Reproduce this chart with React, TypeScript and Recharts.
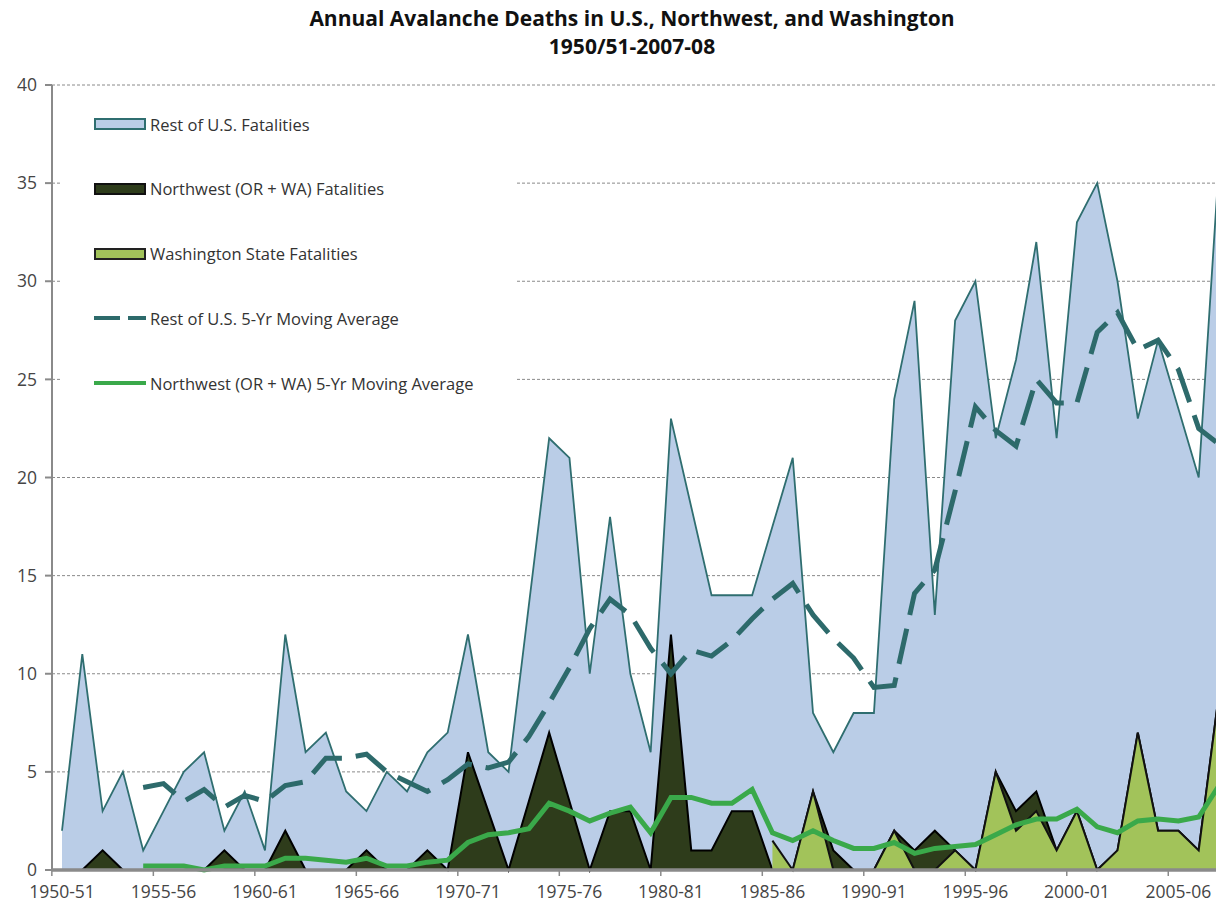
import React from "react";
import {
  ComposedChart,
  Area,
  Line,
  XAxis,
  YAxis,
  CartesianGrid,
  ReferenceLine,
} from "recharts";

// ── Data ───────────────────────────────────────────────────────────────────

const SEASONS = [
  "1950-51", "1951-52", "1952-53", "1953-54", "1954-55", "1955-56", "1956-57", "1957-58", "1958-59", "1959-60",
  "1960-61", "1961-62", "1962-63", "1963-64", "1964-65", "1965-66", "1966-67", "1967-68", "1968-69", "1969-70",
  "1970-71", "1971-72", "1972-73", "1973-74", "1974-75", "1975-76", "1976-77", "1977-78", "1978-79", "1979-80",
  "1980-81", "1981-82", "1982-83", "1983-84", "1984-85", "1985-86", "1986-87", "1987-88", "1988-89", "1989-90",
  "1990-91", "1991-92", "1992-93", "1993-94", "1994-95", "1995-96", "1996-97", "1997-98", "1998-99", "1999-00",
  "2000-01", "2001-02", "2002-03", "2003-04", "2004-05", "2005-06", "2006-07", "2007-08",
];

const REST_US = [
  2, 11, 3, 5, 1, 3, 5, 6, 2, 4,
  1, 12, 6, 7, 4, 3, 5, 4, 6, 7,
  12, 6, 5, 13.5, 22, 21, 10, 18, 10, 6,
  23, 18.5, 14, 14, 14, 17.5, 21, 8, 6, 8,
  8, 24, 29, 13, 28, 30, 22, 26, 32, 22,
  33, 35, 30, 23, 27, 23.5, 20, 36,
];

const NORTHWEST = [
  0, 0, 1, 0, 0, 0, 0, 0, 1, 0,
  0, 2, 0, 0, 0, 1, 0, 0, 1, 0,
  6, 3, 0, 3.5, 7, 3.5, 0, 3, 3, 0,
  12, 1, 1, 3, 3, 0, 0, 4, 1, 0,
  0, 2, 1, 2, 1, 0, 5, 3, 4, 1,
  3, 0, 1, 7, 2, 2, 1, 9,
];

const WASHINGTON = [
  null, null, null, null, null, null, null, null, null, null,
  null, null, null, null, null, null, null, null, null, null,
  null, null, null, null, null, null, null, null, null, null,
  null, null, null, null, null, 1.5, 0, 4, 0, 0,
  0, 2, 0, 0, 1, 0, 5, 2, 3, 1,
  3, 0, 1, 7, 2, 2, 1, 9,
];

const REST_US_MA = [
  null, null, null, null, 4.2, 4.4, 3.5, 4.1, 3.2, 3.8,
  3.5, 4.3, 4.5, 5.7, 5.7, 5.9, 5.0, 4.5, 4.0, 4.6,
  5.4, 5.2, 5.5, 6.8, 8.5, 10.3, 12.3, 13.8, 13.0, 11.3,
  10.0, 11.2, 10.9, 11.7, 12.8, 13.8, 14.6, 13.0, 11.8, 10.8,
  9.3, 9.4, 14.1, 15.3, 19.3, 23.6, 22.4, 21.6, 25.0, 23.8,
  23.8, 27.4, 28.4, 26.5, 27.0, 25.5, 22.5, 21.7,
];

const NORTHWEST_MA = [
  null, null, null, null, 0.2, 0.2, 0.2, 0.0, 0.2, 0.2,
  0.2, 0.6, 0.6, 0.5, 0.4, 0.6, 0.2, 0.2, 0.4, 0.5,
  1.4, 1.8, 1.9, 2.1, 3.4, 3.0, 2.5, 2.9, 3.2, 1.9,
  3.7, 3.7, 3.4, 3.4, 4.1, 1.9, 1.5, 2.0, 1.5, 1.1,
  1.1, 1.4, 0.85, 1.1, 1.2, 1.3, 1.8, 2.3, 2.6, 2.6,
  3.1, 2.2, 1.9, 2.5, 2.6, 2.5, 2.7, 4.3,
];

const Y_TICKS = [0, 5, 10, 15, 20, 25, 30, 35, 40];

const TITLE = "Annual Avalanche Deaths in U.S., Northwest, and Washington";
const SUBTITLE = "1950/51-2007-08";

const LEGEND_ITEMS = [
  { label: "Rest of U.S. Fatalities", kind: "box", fill: "#bacde7", stroke: "#2f6e70" },
  { label: "Northwest (OR + WA) Fatalities", kind: "box", fill: "#2e3c1b", stroke: "#111" },
  { label: "Washington State Fatalities", kind: "box", fill: "#a2c35a", stroke: "#222" },
  { label: "Rest of U.S. 5-Yr Moving Average", kind: "dash", fill: "none", stroke: "#2d6a6b" },
  { label: "Northwest (OR + WA) 5-Yr Moving Average", kind: "line", fill: "none", stroke: "#3aa94a" },
];

const rows = SEASONS.map((season, i) => ({
  season,
  rest: REST_US[i],
  nw: NORTHWEST[i],
  wa: WASHINGTON[i],
  restMA: REST_US_MA[i],
  nwMA: NORTHWEST_MA[i],
}));

// ── Layout ─────────────────────────────────────────────────────────────────

const FONT = "'Open Sans', 'Noto Sans', sans-serif";
const CHART_W = 1229;
const CHART_H = 909;
const Y_AXIS_W = 52;
const X_PAD = 10;
const HALF_STEP = (CHART_W - Y_AXIS_W - 2 * X_PAD) / (SEASONS.length - 1) / 2;

function SeasonTick(props: any) {
  const { x, y, payload } = props;
  return (
    <g>
      <line x1={x - HALF_STEP} x2={x - HALF_STEP} y1={y - 6} y2={y} stroke="#8a8a8a" strokeWidth={1.5} />
      <text x={x} y={y + 22} textAnchor="middle" fill="#454545" fontSize={17.5} fontFamily={FONT}>
        {payload.value}
      </text>
    </g>
  );
}

function LegendSwatch({ item }: { item: (typeof LEGEND_ITEMS)[number] }) {
  return (
    <svg width={52} height={14} style={{ display: "block" }}>
      {item.kind === "box" && (
        <rect x={1} y={2} width={50} height={10} fill={item.fill} stroke={item.stroke} strokeWidth={2} />
      )}
      {item.kind === "dash" && (
        <line x1={0} x2={52} y1={7} y2={7} stroke={item.stroke} strokeWidth={4} strokeDasharray="26 8" />
      )}
      {item.kind === "line" && <line x1={0} x2={52} y1={7} y2={7} stroke={item.stroke} strokeWidth={4} />}
    </svg>
  );
}

export default function App() {
  return (
    <div
      style={{
        position: "absolute",
        left: 0,
        top: 0,
        width: 1216,
        height: 909,
        overflow: "hidden",
        background: "#fff",
        fontFamily: FONT,
      }}
    >
      <div
        style={{
          position: "absolute",
          left: 232,
          top: 4,
          width: 800,
          textAlign: "center",
          fontWeight: 700,
          fontSize: 21,
          lineHeight: "28px",
          color: "#111",
        }}
      >
        <div>{TITLE}</div>
        <div>{SUBTITLE}</div>
      </div>

      <ComposedChart
        width={CHART_W}
        height={CHART_H}
        data={rows}
        margin={{ top: 85, right: 0, bottom: 9, left: 0 }}
      >
        <CartesianGrid vertical={false} stroke="#8a8a8a" strokeDasharray="3 2" />
        <Area
          type="linear"
          dataKey="rest"
          fill="#bacde7"
          fillOpacity={1}
          stroke="#2f6e70"
          strokeWidth={1.8}
          isAnimationActive={false}
        />
        <Area
          type="linear"
          dataKey="nw"
          fill="#2e3c1b"
          fillOpacity={1}
          stroke="#000"
          strokeWidth={2}
          isAnimationActive={false}
        />
        <Area
          type="linear"
          dataKey="wa"
          fill="#a2c35a"
          fillOpacity={1}
          stroke="#111"
          strokeWidth={2}
          isAnimationActive={false}
        />
        <Line
          type="linear"
          dataKey="restMA"
          stroke="#2d6a6b"
          strokeWidth={5}
          strokeDasharray="36 14"
          dot={false}
          activeDot={false}
          isAnimationActive={false}
        />
        <Line
          type="linear"
          dataKey="nwMA"
          stroke="#3aa94a"
          strokeWidth={5}
          dot={false}
          activeDot={false}
          isAnimationActive={false}
        />
        <ReferenceLine y={0} stroke="#8a8a8a" strokeWidth={3} />
        <YAxis
          domain={[0, 40]}
          ticks={Y_TICKS}
          width={Y_AXIS_W}
          tickSize={7}
          tickMargin={8}
          stroke="#8a8a8a"
          strokeWidth={2}
          tick={{ fill: "#454545", fontSize: 17.5, fontFamily: FONT }}
        />
        <XAxis
          dataKey="season"
          interval={4}
          height={30}
          padding={{ left: X_PAD, right: X_PAD }}
          tickLine={false}
          tickSize={6}
          tickMargin={0}
          stroke="#8a8a8a"
          strokeWidth={3}
          tick={<SeasonTick />}
        />
      </ComposedChart>

      <div
        style={{
          position: "absolute",
          left: 62,
          top: 100,
          width: 455,
          height: 300,
          background: "#fff",
        }}
      >
        {LEGEND_ITEMS.map((item, i) => (
          <div
            key={item.label}
            style={{
              position: "absolute",
              left: 32,
              top: 12 + i * 64.75,
              height: 24,
              display: "flex",
              alignItems: "center",
              whiteSpace: "nowrap",
              fontSize: 16.5,
              color: "#333",
            }}
          >
            <LegendSwatch item={item} />
            <span style={{ marginLeft: 4 }}>{item.label}</span>
          </div>
        ))}
      </div>
    </div>
  );
}
